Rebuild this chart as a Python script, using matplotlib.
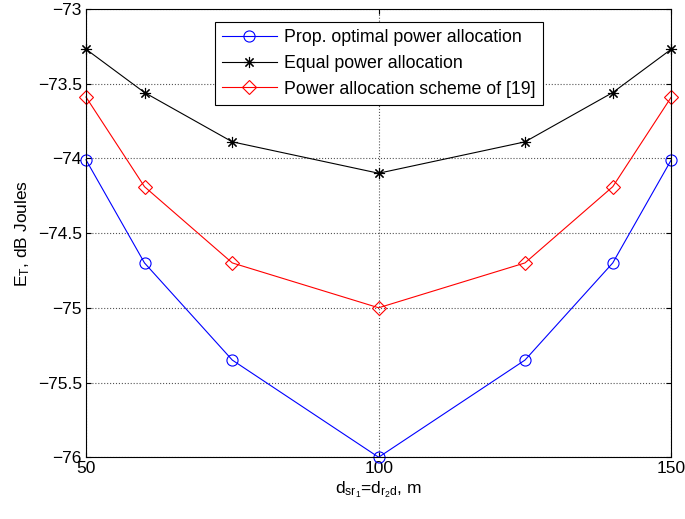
import numpy as np
import matplotlib
matplotlib.use('Agg')
import matplotlib.pyplot as plt

plt.rcParams['font.family'] = ['Liberation Sans', 'DejaVu Sans']
plt.rcParams['mathtext.default'] = 'regular'
plt.rcParams['font.size'] = 12.5

dist = [50, 60, 75, 100, 125, 140, 150]
e_opt = [-74.01, -74.70, -75.35, -76.0, -75.35, -74.70, -74.01]
e_equal = [-73.27, -73.56, -73.89, -74.10, -73.89, -73.56, -73.27]
e_ref19 = [-73.59, -74.19, -74.70, -75.0, -74.70, -74.19, -73.59]

fig = plt.figure(figsize=(6.85, 5.19), dpi=100)
ax = fig.add_axes([0.1255, 0.119, 0.8545, 0.864])

ax.plot(dist, e_opt, color='#0000ff', marker='o', mfc='none', ms=8, lw=0.8,
        mew=0.8, label='Prop. optimal power allocation', clip_on=False)
ax.plot(dist, e_equal, color='black', marker=(8, 2, 0), ms=8, lw=0.8,
        mew=0.8, label='Equal power allocation', clip_on=False)
ax.plot(dist, e_ref19, color='#ff0000', marker='D', mfc='none', ms=7, lw=0.8,
        mew=0.8, label='Power allocation scheme of [19]', clip_on=False)

ax.set_xlim(50, 150)
ax.set_ylim(-76, -73)
ax.set_xticks([50, 100, 150])
ax.set_yticks(np.arange(-76, -72.9, 0.5))
ax.set_yticklabels(['−76', '−75.5', '−75', '−74.5', '−74', '−73.5', '−73'])
ax.grid(True, linestyle=':', color='#555555', lw=0.8)
ax.tick_params(direction='in', top=True, right=True, labelsize=12.5, pad=3)
for s in ax.spines.values():
    s.set_linewidth(0.8)

ax.set_xlabel(r'd$_{sr_1}$=d$_{r_2d}$, m', fontsize=12.5, labelpad=2)
ax.set_ylabel(r'E$_T$, dB Joules', fontsize=12.5)

leg = ax.legend(loc='upper center', bbox_to_anchor=(0.5, 0.971), borderaxespad=0,
                fancybox=False, edgecolor='black', framealpha=1, fontsize=12.8,
                handlelength=3.1, handletextpad=0.4, borderpad=0.4,
                labelspacing=0.5)
leg.get_frame().set_linewidth(0.8)

fig.savefig('out.png', dpi=100)
